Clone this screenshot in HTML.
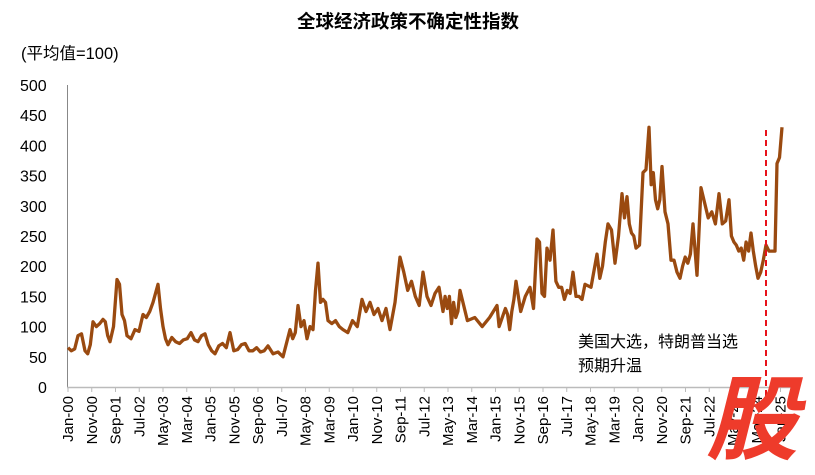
<!DOCTYPE html>
<html><head><meta charset="utf-8"><style>
body{margin:0;background:#fff;width:815px;height:470px;overflow:hidden}
svg text{font-family:"Liberation Sans","Noto Sans CJK SC",sans-serif}
</style></head><body>
<svg id="s" width="815" height="470" xmlns="http://www.w3.org/2000/svg">
<text x="408" y="28" text-anchor="middle" font-size="18.5" font-weight="bold" fill="#000">全球经济政策不确定性指数</text>
<text x="21" y="59" font-size="16.5" fill="#000">(平均值=100)</text>
<g font-size="16" fill="#000" id="yl"></g>
<line x1="67.5" y1="85" x2="67.5" y2="387" stroke="#888" stroke-width="1"/>
<line x1="67" y1="387.5" x2="800" y2="387.5" stroke="#bbb" stroke-width="1.5"/>
<g id="xt"></g>
<polyline id="ln" fill="none" stroke="#9a4a10" stroke-width="3.3" stroke-linejoin="round"/>
<line x1="766" y1="130" x2="766" y2="400" stroke="#e8121a" stroke-width="2" stroke-dasharray="6,4"/>
<text x="578" y="347" font-size="16" fill="#000">美国大选，特朗普当选</text>
<text x="578" y="371" font-size="16" fill="#000">预期升温</text>
<text x="752" y="452" font-size="92" font-weight="bold" font-style="italic" fill="#ee3b2b" text-anchor="middle" font-family="Noto Sans CJK SC,sans-serif">股</text>
</svg>
<script>
var ns="http://www.w3.org/2000/svg",s=document.getElementById('s');
function Y(v){return 387-v*0.604;}
var yl=document.getElementById('yl');
for(var v=0;v<=500;v+=50){var t=document.createElementNS(ns,'text');t.setAttribute('x',v==0?38:(v<100?29:20));t.setAttribute('y',Y(v)+6);t.textContent=v;yl.appendChild(t);}
var labs=["Jan-00","Nov-00","Sep-01","Jul-02","May-03","Mar-04","Jan-05","Nov-05","Sep-06","Jul-07","May-08","Mar-09","Jan-10","Nov-10","Sep-11","Jul-12","May-13","Mar-14","Jan-15","Nov-15","Sep-16","Jul-17","May-18","Mar-19","Jan-20","Nov-20","Sep-21","Jul-22","May-23","Mar-24","Jan-25"];
var xt=document.getElementById('xt');
labs.forEach(function(l,i){var x=68+i*23.75;var ln=document.createElementNS(ns,'line');ln.setAttribute('x1',x);ln.setAttribute('x2',x);ln.setAttribute('y1',387);ln.setAttribute('y2',392);ln.setAttribute('stroke','#bbb');xt.appendChild(ln);
var t=document.createElementNS(ns,'text');t.setAttribute('font-size','15');t.setAttribute('text-anchor','end');t.setAttribute('transform','translate('+(x+5)+',396) rotate(-90)');t.textContent=l;xt.appendChild(t);});
var d=[[68,65],60,63,[78,85],88,[85,60],55,70,[93,108],100,105,[103,112],108,85,[110,75],100,[117,178],170,120,110,[127,85],80,95,92,[143,120],115,125,[153,140],[158,170],130,100,80,[168,70],82,75,72,78,80,[191,90],78,75,85,[205,88],70,60,[215,55],68,72,65,[230,90],60,62,70,72,60,60,65,58,60,[268,68],55,58,[283,50],[290,95],80,90,[298,135],100,110,80,100,[313,95],160,[318,205],140,145,140,[328,110],105,110,100,[343,95],90,110,100,[362,145],125,140,120,130,110,130,[390,95],140,[400,215],190,160,175,150,135,[423,190],150,135,155,165,[443,125],150,130,150,105,140,115,125,[460,160],110,115,100,115,[497,135],100,110,120,130,120,95,125,145,[516,175],125,150,[530,165],130,[537,245],240,155,150,[547,230],210,[553,260],175,165,165,145,160,155,[573,190],150,150,145,[585,170],165,[597,220],180,200,240,[608,270],260,205,250,[622,320],280,[627,315],270,255,250,[636,230],235,[643,355],360,[649,430],335,355,310,295,310,[662,365],290,270,210,210,190,[680,180],200,215,205,220,[693,270],185,[701,330],305,280,290,270,[719,320],270,275,[729,310],250,240,235,225,230,210,240,225,[751,255],225,200,[758,180],190,210,[766,235],225,225,[775,225],[777,370],380,[782,430]];
var pts=[],i=0;
while(i<d.length){var a=d[i];var j=i+1;while(j<d.length&&typeof d[j]=='number')j++;
pts.push([a[0],a[1]]);if(j<d.length){var b=d[j],n=j-i;for(var k=1;k<n;k++)pts.push([a[0]+(b[0]-a[0])*k/n,d[i+k]]);}i=j;}
document.getElementById('ln').setAttribute('points',pts.map(function(p){return p[0].toFixed(1)+','+Y(p[1]).toFixed(1)}).join(' '));
</script>
</body></html>
